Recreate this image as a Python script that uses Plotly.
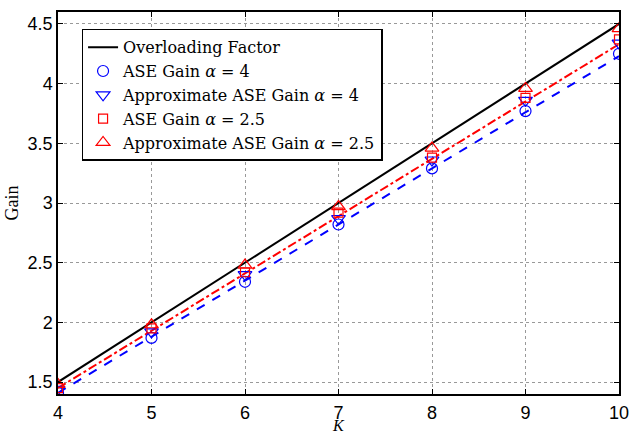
import plotly.graph_objects as go

K = [4, 5, 6, 7, 8, 9, 10]
overloading = [1.5, 2.0, 2.5, 3.0, 3.5, 4.0, 4.5]
ase_a4 = [1.41, 1.87, 2.34, 2.82, 3.29, 3.77, 4.25]
approx_a4 = [1.44, 1.92, 2.40, 2.87, 3.36, 3.86, 4.34]
ase_a25 = [1.45, 1.95, 2.42, 2.92, 3.38, 3.88, 4.37]
approx_a25 = [1.48, 1.98, 2.48, 2.97, 3.46, 3.96, 4.46]
line_a4 = [1.41, 1.88, 2.35, 2.82, 3.29, 3.76, 4.23]
line_a25 = [1.45, 1.93, 2.41, 2.89, 3.37, 3.85, 4.33]

xticks = [4, 5, 6, 7, 8, 9, 10]
yticks = [1.5, 2, 2.5, 3, 3.5, 4, 4.5]
ytick_text = ["1.5", "2", "2.5", "3", "3.5", "4", "4.5"]

fig = go.Figure()
fig.add_trace(go.Scatter(x=K, y=line_a4, mode="lines", showlegend=False,
                         line=dict(color="blue", width=2, dash="dash")))
fig.add_trace(go.Scatter(x=K, y=line_a25, mode="lines", showlegend=False,
                         line=dict(color="red", width=2, dash="dashdot")))
fig.add_trace(go.Scatter(x=K, y=overloading, mode="lines", name="Overloading Factor",
                         line=dict(color="black", width=2)))
fig.add_trace(go.Scatter(x=K, y=ase_a4, mode="markers", name="ASE Gain <i>α</i> = 4",
                         marker=dict(symbol="circle-open", size=11, color="blue", line=dict(width=1.2))))
fig.add_trace(go.Scatter(x=K, y=approx_a4, mode="markers", name="Approximate ASE Gain <i>α</i> = 4",
                         marker=dict(symbol="triangle-down-open", size=12, color="blue", line=dict(width=1.2))))
fig.add_trace(go.Scatter(x=K, y=ase_a25, mode="markers", name="ASE Gain <i>α</i> = 2.5",
                         marker=dict(symbol="square-open", size=9, color="red", line=dict(width=1.2))))
fig.add_trace(go.Scatter(x=K, y=approx_a25, mode="markers", name="Approximate ASE Gain <i>α</i> = 2.5",
                         marker=dict(symbol="triangle-up-open", size=12, color="red", line=dict(width=1.2))))

axis_common = dict(showline=True, linecolor="black", linewidth=1.5, mirror="ticks",
                   ticks="inside", ticklen=5, tickcolor="black", zeroline=False,
                   showgrid=True, gridcolor="#999999", griddash="dot", gridwidth=1,
                   tickfont=dict(family="Liberation Sans, Arial", size=18, color="black"))

fig.update_xaxes(range=[4, 10], tickvals=xticks, ticklabelstandoff=2, **axis_common)
fig.update_yaxes(range=[1.4, 4.6], tickvals=yticks, ticktext=ytick_text, **axis_common,
                 title=dict(text="Gain", font=dict(family="Liberation Serif", size=18, color="black"),
                            standoff=4))

fig.add_annotation(text="<i>K</i>", xref="paper", yref="paper", x=0.5, y=-0.057,
                   xanchor="center", yanchor="top", showarrow=False, borderpad=0,
                   font=dict(family="Liberation Serif", size=16, color="black"))

fig.update_layout(
    width=639, height=433,
    margin=dict(l=58, r=11, t=10, b=37),
    plot_bgcolor="white", paper_bgcolor="white",
    legend=dict(x=0.042, y=0.956, xanchor="left", yanchor="top",
                bgcolor="white", bordercolor="black", borderwidth=1.5,
                font=dict(family="DejaVu Serif", size=16, color="black"),
                tracegroupgap=0, itemwidth=30),
)

fig.write_html("out.html", config={"displayModeBar": False},
               post_script="document.body.style.margin='0px';document.body.style.overflow='hidden';")
